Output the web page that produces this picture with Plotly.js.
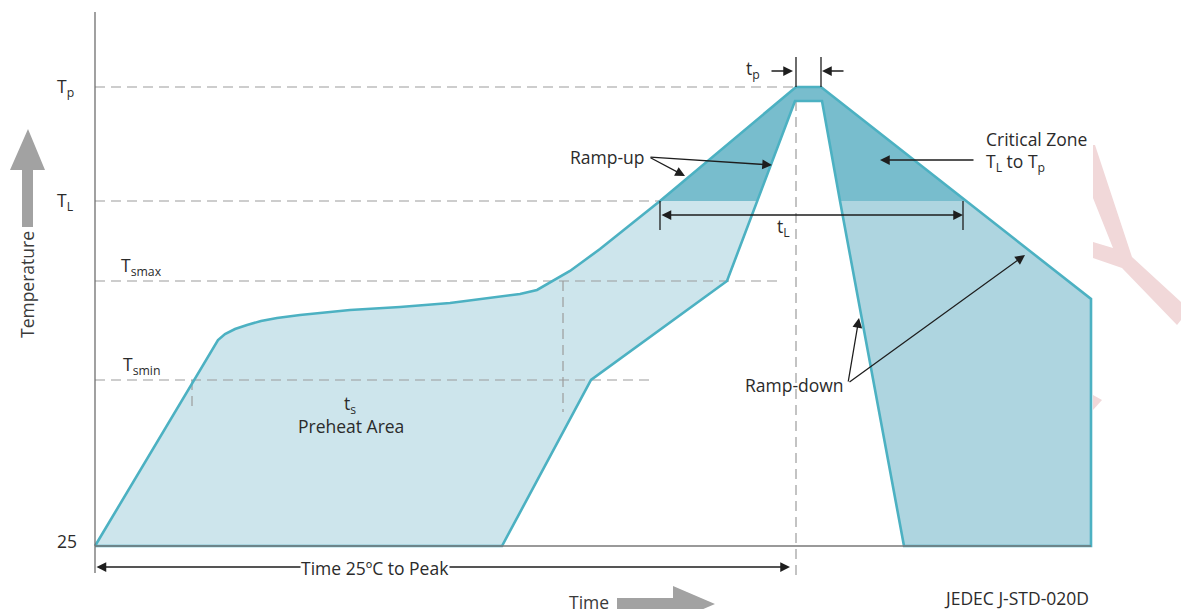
<!DOCTYPE html>
<html>
<head>
<meta charset="utf-8">
<script src="https://cdn.plot.ly/plotly-3.0.1.min.js"></script>
<style>html,body{margin:0;padding:0;background:#fff}#chart{width:1181px;height:609px}</style>
</head>
<body>
<div id="chart"></div>
<script>
// ---- Data (time units along x, height above the 25 °C baseline along y) ----
const levelLabels = ['T<sub>p</sub>', 'T<sub>L</sub>', '25'];
const levelValues = [459, 345, 0];
const soakLabels = ['T<sub>smax</sub>', 'T<sub>smin</sub>'];
const soakValues = [265, 166];

// outer (upper) edge of the reflow window, from 25 °C up to the peak and down
const outerX = [0, 123, 130, 140, 152, 166, 182, 205, 255, 305, 355, 395, 425, 442, 458, 475, 490, 505, 565, 701, 726, 871, 996, 996];
const outerY = [0, 206, 212, 217, 221, 225, 228, 231, 236, 239, 243, 248, 252, 256, 265, 275, 286, 297, 345, 459, 459, 345, 247, 0];
// inner (lower) edge of the window, from the cooling foot back to the heating foot
const innerX = [809, 745, 727, 700, 662, 632, 496, 407, 0];
const innerY = [0, 345, 445, 445, 345, 265, 166, 0, 0];

// regions
const preheatX = [0, 123, 130, 140, 152, 166, 182, 205, 255, 305, 355, 395, 425, 442, 458, 475, 490, 505, 565, 662, 632, 496, 407];
const preheatY = [0, 206, 212, 217, 221, 225, 228, 231, 236, 239, 243, 248, 252, 256, 265, 275, 286, 297, 345, 345, 265, 166, 0];
const criticalX = [565, 701, 726, 871, 745, 727, 700, 662];
const criticalY = [345, 459, 459, 345, 345, 445, 445, 345];
const cooldownX = [745, 871, 996, 996, 809];
const cooldownY = [345, 345, 247, 0, 0];

// faint watermark
const markX = [1000, 1037, 1086, 1086, 1082, 1027, 998, 998, 1018, 998, 998];
const markY = [401, 289, 244, 226, 221, 278, 288, 304, 298, 348, 401];
const mark2X = [998, 1007, 998];
const mark2Y = [151, 146, 136];

const C_LIGHT = '#cde5ec', C_MED = '#aed5e0', C_DARK = '#78bdcd', C_EDGE = '#4cb1c2';
const C_DASH = '#9c9c9c', C_TXT = '#2b2b2b', C_ARROW = '#1e1e1e', C_GREY = '#a2a2a2';
const FS = 17.5;

const traces = [];
function poly(x, y, color) {
  traces.push({x: x, y: y, type: 'scatter', mode: 'lines', fill: 'toself', fillcolor: color,
    line: {width: 0, color: color}, hoverinfo: 'skip'});
}
function line(x, y, color, width, dash) {
  traces.push({x: x, y: y, type: 'scatter', mode: 'lines',
    line: {color: color, width: width, dash: dash || 'solid'}, hoverinfo: 'skip'});
}

poly(markX, markY, '#f1d8d9');
poly(mark2X, mark2Y, '#f1d8d9');
poly(preheatX, preheatY, C_LIGHT);
poly(cooldownX, cooldownY, C_MED);
poly(criticalX, criticalY, C_DARK);

// dashed guide lines
const DASH = '10px,6px';
line([0, 701], [levelValues[0], levelValues[0]], C_DASH, 1.2, DASH);
line([0, 565], [levelValues[1], levelValues[1]], C_DASH, 1.2, DASH);
line([0, 683], [soakValues[0], soakValues[0]], C_DASH, 1.2, DASH);
line([0, 555], [soakValues[1], soakValues[1]], C_DASH, 1.2, DASH);
line([97, 97], [soakValues[1], 134], C_DASH, 1.2, DASH);
line([468, 468], [soakValues[0], 134], C_DASH, 1.2, DASH);
line([701, 701], [445, -34], C_DASH, 1.2, DASH);

// profile outline
line(outerX.concat(innerX), outerY.concat(innerY), C_EDGE, 2.6);

// axes
line([0, 0], [534, -27], '#6e6e6e', 1.3);
line([0, 996], [0, 0], '#777777', 1.3);

// t_p markers and t_L ticks
line([701, 701], [459, 489], C_ARROW, 1.3);
line([726, 726], [459, 489], C_ARROW, 1.3);
line([565, 565], [345, 316], C_ARROW, 1.3);
line([868, 868], [345, 316], C_ARROW, 1.3);

// big grey direction arrows
poly([-73, -73, -85, -67, -50, -62, -62], [319, 376, 376, 417, 376, 376, 319], C_GREY);
poly([522, 578, 578, 620, 578, 578, 522], [-52, -52, -40, -58, -76, -64, -64], C_GREY);

const ann = [];
function txt(x, y, t, opts) {
  ann.push(Object.assign({x: x, y: y, xref: 'x', yref: 'y', text: t, showarrow: false,
    font: {family: 'Open Sans, sans-serif', size: FS, color: C_TXT}}, opts || {}));
}
function arrow(x0, y0, x1, y1, both) {
  ann.push({x: x1, y: y1, ax: x0, ay: y0, xref: 'x', yref: 'y', axref: 'x', ayref: 'y',
    text: '', showarrow: true, arrowhead: 2, startarrowhead: 2, arrowsize: 1.5, startarrowsize: 1.5,
    arrowwidth: 1.3, arrowcolor: C_ARROW, standoff: 0, startstandoff: 0,
    arrowside: both ? 'end+start' : 'end'});
}

// level labels
txt(-30, levelValues[0], levelLabels[0]);
txt(-30, levelValues[1], levelLabels[1]);
txt(-28, levelValues[2] + 5, levelLabels[2]);
txt(46, soakValues[0] + 15, soakLabels[0]);
txt(46, soakValues[1] + 15, soakLabels[1]);

// time arrows
arrow(675, 475, 698, 475);
arrow(750, 475, 727, 475);
txt(658, 477, 't<sub>p</sub>');

arrow(565, 331, 868, 331, true);
txt(688, 319, 't<sub>L</sub>');

arrow(0, -21, 695, -21, true);
txt(280, -22, 'Time 25ºC to Peak', {bgcolor: '#ffffff', borderpad: 0});

// ramp annotations
txt(512, 389, 'Ramp-up');
arrow(554, 389, 590, 370);
arrow(554, 389, 677, 381);

txt(889, 407, 'Critical Zone', {xanchor: 'left'});
txt(889, 384, 'T<sub>L</sub> to T<sub>p</sub>', {xanchor: 'left'});
arrow(880, 386, 785, 386);

txt(751, 161, 'Ramp-down', {xanchor: 'right'});
arrow(753, 163, 764, 228);
arrow(753, 163, 930, 291);

// preheat
txt(255, 142, 't<sub>s</sub>');
txt(256, 120, 'Preheat Area');

// axis titles
txt(-68, 261, 'Temperature', {textangle: -90, font: {family: 'Open Sans, sans-serif', size: FS, color: '#3a3a3a'}});
txt(494, -56, 'Time', {font: {family: 'Open Sans, sans-serif', size: FS, color: '#3a3a3a'}});
txt(996, -52, 'JEDEC J-STD-020D', {xanchor: 'right'});

const layout = {
  width: 1181, height: 609,
  margin: {l: 0, r: 0, t: 0, b: 0},
  paper_bgcolor: '#ffffff', plot_bgcolor: '#ffffff',
  showlegend: false,
  xaxis: {range: [-95, 1086], visible: false, fixedrange: true},
  yaxis: {range: [-63, 546], visible: false, fixedrange: true},
  annotations: ann
};
Plotly.newPlot('chart', traces, layout, {displayModeBar: false, staticPlot: true});
</script>
</body>
</html>
